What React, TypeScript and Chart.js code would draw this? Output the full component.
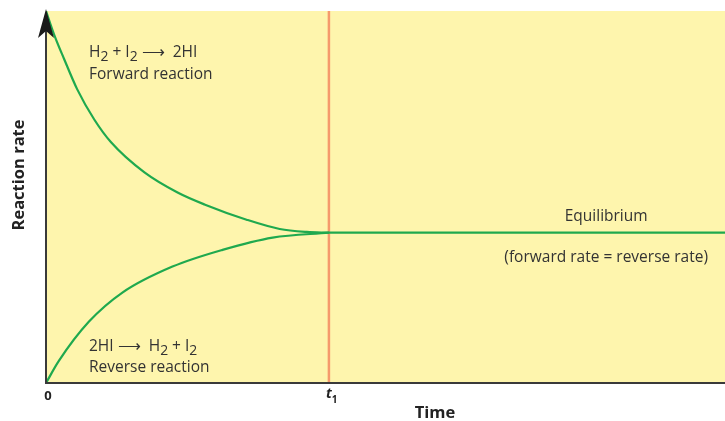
import React, { useEffect, useRef } from "react";
import { Chart, registerables } from "chart.js";

Chart.register(...registerables);

// ---- data (time in units of t1, rate in % of initial forward rate) ----
const forwardTime = [0, 0.028, 0.064, 0.11, 0.17, 0.23, 0.348, 0.465, 0.56, 0.709, 0.826, 0.922, 1];
const forwardRate = [100, 93.8, 87.1, 79.0, 70.9, 64.7, 56.6, 51.2, 48.0, 43.9, 41.4, 40.6, 40.4];
const reverseTime = [0, 0.046, 0.152, 0.27, 0.447, 0.624, 0.801, 1];
const reverseRate = [0, 6, 16.5, 24.3, 31.3, 35.8, 39.1, 40.4];
const equilibriumTime = [1, 2.4];
const equilibriumRate = [40.4, 40.4];
const t1Value = 1;
const xMax = 2.4;
const yMax = 100;
const xAxisTitle = "Time";
const yAxisTitle = "Reaction rate";
const forwardLabel = ["Forward reaction"];
const reverseLabel = ["Reverse reaction"];
const equilibriumLabels = ["Equilibrium", "(forward rate = reverse rate)"];

const YELLOW = "#fef5ad";
const GREEN = "#1fa94e";
const ORANGE = "#f59a6c";
const AXIS = "#3a3a3a";
const TEXT = "#333333";
const FONT = "'Open Sans', 'Noto Sans', sans-serif";
const SIZE = 15.5;

type Part = { t: string; sub?: boolean };

function drawRich(ctx: CanvasRenderingContext2D, x: number, y: number, parts: Part[], size: number) {
  let cx = x;
  for (const p of parts) {
    if (p.sub) {
      ctx.font = `${size * 0.9}px ${FONT}`;
      ctx.fillText(p.t, cx, y + size * 0.28);
    } else {
      ctx.font = `${size}px ${FONT}`;
      ctx.fillText(p.t, cx, y);
    }
    cx += ctx.measureText(p.t).width;
  }
}

const decorPlugin = {
  id: "decor",
  beforeDraw(chart: any) {
    const { ctx, chartArea } = chart;
    ctx.save();
    ctx.fillStyle = YELLOW;
    ctx.fillRect(chartArea.left, chartArea.top, chartArea.right - chartArea.left, chartArea.bottom - chartArea.top);
    const xs = chart.scales.x;
    const tx = xs.getPixelForValue(t1Value);
    ctx.strokeStyle = ORANGE;
    ctx.lineWidth = 2.5;
    ctx.beginPath();
    ctx.moveTo(tx, chartArea.top);
    ctx.lineTo(tx, chartArea.bottom);
    ctx.stroke();
    ctx.restore();
  },
  afterDraw(chart: any) {
    const { ctx, chartArea } = chart;
    const xs = chart.scales.x;
    const ys = chart.scales.y;
    const x0 = xs.getPixelForValue(0);
    const y0 = ys.getPixelForValue(0);
    ctx.save();
    ctx.strokeStyle = AXIS;
    ctx.lineWidth = 2;
    ctx.beginPath();
    ctx.moveTo(x0, chartArea.top + 10);
    ctx.lineTo(x0, y0);
    ctx.lineTo(chartArea.right, y0);
    ctx.stroke();
    ctx.fillStyle = "#1a1a1a";
    ctx.beginPath();
    ctx.moveTo(x0, chartArea.top - 2);
    ctx.lineTo(x0 + 8, chartArea.top + 27);
    ctx.lineTo(x0, chartArea.top + 20);
    ctx.lineTo(x0 - 8, chartArea.top + 27);
    ctx.closePath();
    ctx.fill();

    ctx.fillStyle = TEXT;
    ctx.textAlign = "left";
    ctx.textBaseline = "alphabetic";
    const lx = x0 + 43;
    drawRich(ctx, lx, 57, [
      { t: "H" }, { t: "2", sub: true }, { t: " + I" }, { t: "2", sub: true }, { t: " \u27F6  2HI" },
    ], SIZE);
    ctx.font = `${SIZE}px ${FONT}`;
    ctx.fillText(forwardLabel[0], lx, 79);
    drawRich(ctx, lx, 351, [
      { t: "2HI \u27F6  H" }, { t: "2", sub: true }, { t: " + I" }, { t: "2", sub: true },
    ], SIZE);
    ctx.font = `${SIZE}px ${FONT}`;
    ctx.fillText(reverseLabel[0], lx, 372);

    ctx.textAlign = "center";
    const ex = xs.getPixelForValue(1.98);
    ctx.font = `${SIZE}px ${FONT}`;
    ctx.fillText(equilibriumLabels[0], ex, 221);
    ctx.fillText(equilibriumLabels[1], ex, 262);

    ctx.fillStyle = "#222";
    ctx.font = `bold 13px ${FONT}`;
    ctx.fillText("0", x0 + 2, 400);
    const tx = xs.getPixelForValue(t1Value);
    ctx.textAlign = "left";
    ctx.font = `italic bold 14px ${FONT}`;
    ctx.fillText("t", tx - 3, 398);
    const tw = ctx.measureText("t").width;
    ctx.font = `bold 10px ${FONT}`;
    ctx.fillText("1", tx - 3 + tw, 403);

    ctx.textAlign = "center";
    ctx.font = `bold 16.5px ${FONT}`;
    ctx.fillText(xAxisTitle, 435, 418);
    ctx.save();
    ctx.translate(24, 175);
    ctx.rotate(-Math.PI / 2);
    ctx.fillText(yAxisTitle, 0, 0);
    ctx.restore();
    ctx.restore();
  },
};

export default function App() {
  const ref = useRef<HTMLCanvasElement | null>(null);
  useEffect(() => {
    document.body.style.margin = "0";
    if (!ref.current) return;
    const toPts = (xs: number[], ys: number[]) => xs.map((x, i) => ({ x, y: ys[i] }));
    const lineStyle = {
      borderColor: GREEN,
      borderWidth: 2.2,
      pointRadius: 0,
      fill: false,
      cubicInterpolationMode: "monotone" as const,
    };
    const chart = new Chart(ref.current, {
      type: "line",
      data: {
        datasets: [
          { label: "Forward", data: toPts(forwardTime, forwardRate), ...lineStyle },
          { label: "Reverse", data: toPts(reverseTime, reverseRate), ...lineStyle },
          { label: "Equilibrium", data: toPts(equilibriumTime, equilibriumRate), ...lineStyle },
        ],
      },
      options: {
        animation: false,
        responsive: true,
        maintainAspectRatio: false,
        layout: { padding: { left: 46, top: 11, right: 0, bottom: 38 } },
        plugins: { legend: { display: false }, tooltip: { enabled: false } },
        scales: {
          x: { type: "linear", min: 0, max: xMax, display: false },
          y: { type: "linear", min: 0, max: yMax, display: false },
        },
      },
      plugins: [decorPlugin],
    });
    return () => chart.destroy();
  }, []);
  return (
    <div style={{ width: 725, height: 421, position: "relative" }}>
      <canvas ref={ref} />
    </div>
  );
}
